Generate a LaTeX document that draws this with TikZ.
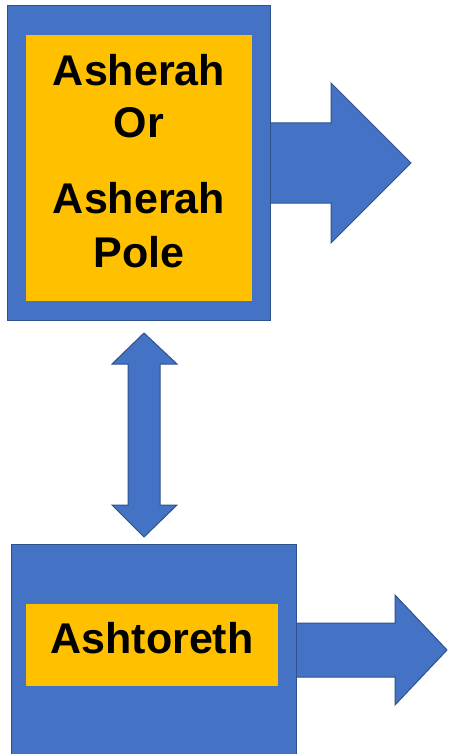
\documentclass[tikz,border=0pt]{standalone}
\usepackage{fontspec}
\setmainfont{Liberation Sans}
\definecolor{boxblue}{HTML}{4472C4}
\definecolor{edgeblue}{HTML}{2F528F}
\definecolor{boxgold}{HTML}{FFC000}
\tikzset{
	bluebox/.style={fill=boxblue, draw=edgeblue, line width=1pt},
	goldbox/.style={fill=boxgold, draw=none},
	boxword/.style={anchor=base, inner sep=0pt, font=\fontsize{43}{52}\selectfont\bfseries}
}

\begin{document}
\begin{tikzpicture}[x=1pt, y=-1pt]
			%%%%% START %%%%%
			\fill[white] (0, 0) rectangle (448, 754);
			\useasboundingbox (0, 0) rectangle (448, 754);
			
			% top block with its arrow
			\draw[bluebox] (268, 123) -- (331, 123) -- (331, 83) -- (411, 163) -- (331, 243) -- (331, 203) -- (268, 203) -- cycle;
			\draw[bluebox] (7, 6) rectangle (270, 320);
			\fill[goldbox] (26, 35) rectangle (252, 301);
			\node[boxword] (asherahA) at (139, 86) {Asherah};
			\node[boxword] (asherahOr) at (139, 138) {Or};
			\node[boxword] (asherahB) at (139, 213) {Asherah};
			\node[boxword] (asherahPole) at (139, 267) {Pole};
			
			% double arrow between the blocks
			\draw[bluebox] (144, 333) -- (177, 364) -- (160, 364) -- (160, 505) -- (177, 505) -- (144, 537)
				-- (112, 505) -- (128, 505) -- (128, 364) -- (112, 364) -- cycle;
			
			% bottom block with its arrow
			\draw[bluebox] (294, 623) -- (395, 623) -- (395, 595) -- (447, 650) -- (395, 705) -- (395, 677) -- (294, 677) -- cycle;
			\draw[bluebox] (11, 544) rectangle (296, 760);
			\fill[goldbox] (26, 604) rectangle (278, 686);
			\node[boxword] (ashtoreth) at (152, 653) {Ashtoreth};
			%%%%% END %%%%%
\end{tikzpicture}
\end{document}
